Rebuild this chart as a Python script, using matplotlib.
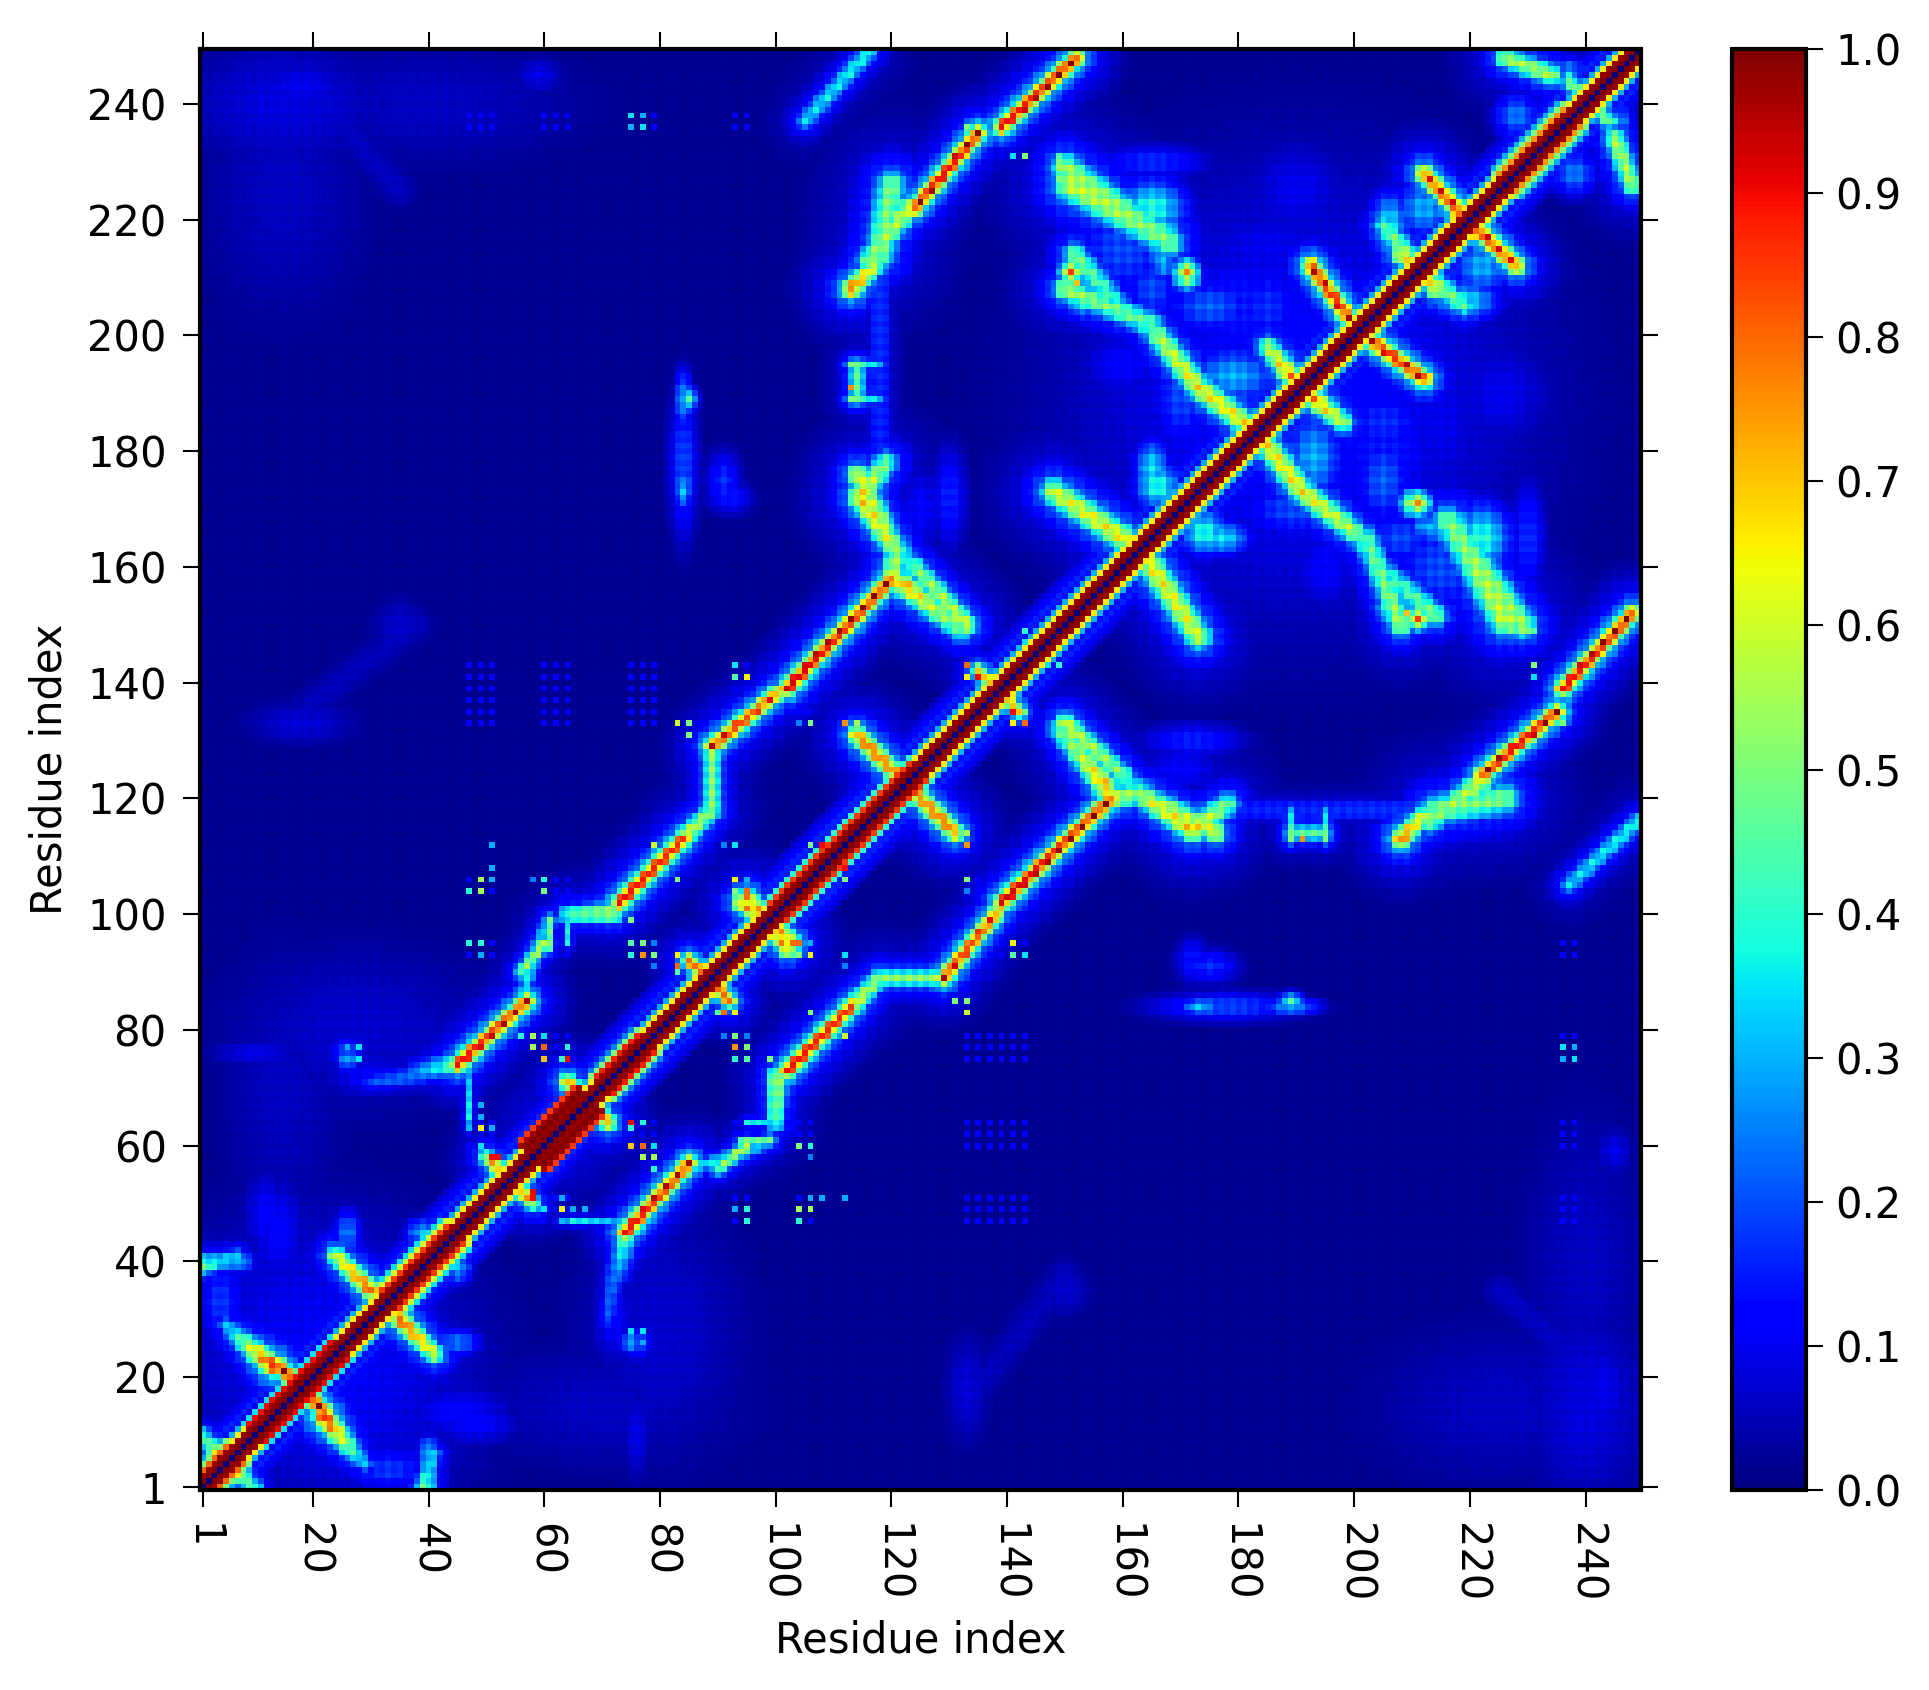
import numpy as np
import matplotlib
matplotlib.use("Agg")
import matplotlib.pyplot as plt

N_RESIDUES = 249
TICKS = [1, 20, 40, 60, 80, 100, 120, 140, 160, 180, 200, 220, 240]
CBAR_TICKS = [0.0, 0.1, 0.2, 0.3, 0.4, 0.5, 0.6, 0.7, 0.8, 0.9, 1.0]
AXIS_LABEL = "Residue index"

# contact ridges: x1, y1, x2, y2, value1, value2, spread
SHEET_RIDGES = [
    (74, 45, 85, 57, .92, .88, 1.9), (91, 57, 99, 61, .3, .35, 2), (100, 64, 100, 72, .45, .55, 2.2),
    (102, 73, 113, 84, .92, .88, 1.9), (114, 85, 118, 89, .6, .5, 2.4), (118, 89, 129, 89, .5, .5, 2.2),
    (129, 89, 138, 100, .88, .82, 1.9), (139, 102, 158, 120, .95, .9, 1.9), (158, 120, 163, 121, .6, .5, 3),
    (164, 120, 172, 114.5, .6, .68, 2.8), (172, 114.5, 178, 119, .68, .48, 2.8), (180, 118, 225, 118, .17, .2, 2.4),
    (208, 113, 212, 117, .78, .6, 2.4), (214, 118, 226, 120, .5, .5, 3.6), (213, 116, 222, 123, .5, .6, 2.8),
    (222, 124, 235, 135, .92, .92, 1.9), (236, 139, 248, 152, .92, .92, 1.9), (237, 105, 249, 116, .33, .38, 2.2),
    (189, 113, 189, 118, .45, .3, 1.4), (195, 113, 195, 118, .45, .3, 1.4), (189, 114, 195, 114, .5, .5, 1.6),
    (149, 132, 157, 122, .45, .72, 2.8), (74, 45, 73, 38, .5, .25, 2.4), (30, 71, 44, 73, .2, .3, 2),
    (47, 65, 47, 71, .35, .3, .9), (66, 100, 73, 101, .5, .5, 2.2), (61, 94, 61, 99, .45, .45, .9),
    (64, 95, 64, 98, .4, .4, .9), (56, 90, 60, 95, .5, .6, 1.6), (55, 83, 58, 91, .35, .35, 1.6),
    (63, 47, 73, 47, .28, .28, 1.0),
]
HELIX_ARMS = [
    (16, 20, 22, 14, .92, .92, 1.9), (22, 13, 27, 7, .88, .42, 2.6), (27, 7, 29, 5, .42, .3, 2),
    (35, 30, 41, 24, .82, .6, 2.3), (7, 3, 10, 1, .6, .4, 2), (55, 53, 58, 50, .88, .6, 1.8),
    (65, 70, 71, 64, .72, .72, 2.1), (85, 92, 92, 85, .82, .82, 1.7), (94, 102, 103, 95, .72, .72, 2.2),
    (115, 130, 131, 114, .78, .72, 2.3), (135, 142, 142, 135, .72, .72, 1.7), (165, 160, 173, 148, .65, .6, 3.1),
    (184.5, 181.5, 191, 173, .65, .65, 2.8), (191, 173, 200, 166, .65, .55, 2.8), (193, 189, 198, 185, .75, .55, 2.5),
    (203, 199, 212, 192.5, .88, .88, 2.1), (221.5, 218, 228, 212, .88, .82, 2.1), (151, 226, 167, 217, .6, .5, 3.9),
    (151.6, 214, 159, 205.4, .5, .4, 2.8), (159, 205, 166, 200, .35, .4, 2.8), (165, 219, 167, 212, .3, .3, 2.8),
    (205, 219, 214, 208, .45, .65, 2.5), (216, 168, 229, 150, .5, .55, 3.4), (202, 165, 208, 150, .45, .55, 2.8),
    (114, 176, 119, 167, .62, .55, 2.5), (119, 167, 124, 160, .3, .35, 2.5), (124, 160, 133, 150, .5, .6, 2.5),
    (226, 248, 234, 245, .55, .55, 2.5), (237, 244, 244, 237, .5, .5, 2), (1, 40, 8, 40, .4, .3, 2),
    (39, 1, 41, 7, .45, .3, 2), (22, 240, 35, 225, .06, .06, 4), (135, 18, 150, 38, .055, .055, 4),
]
# diffuse patches: x, y, spread x, spread y, value
PATCHES = [
    (190, 190, 40, 40, .13), (20, 25, 26, 26, .11), (28, 80, 26, 16, .07), (15, 240, 20, 12, .085),
    (70, 15, 28, 12, .06), (240, 40, 12, 30, .06), (225, 15, 25, 16, .06),
    (165, 230, 10, 3, .17), (180, 205, 12, 10, .15), (160, 215, 9, 9, .2), (166, 174, 4, 4, .4),
    (177, 165, 5, 3, .35), (208, 165, 6, 5, .2), (185, 215, 15, 8, .1), (170, 190, 5, 10, .2),
    (151, 211, 2, 2, .75), (171, 211, 2.2, 2.2, .7), (210, 171, 2.5, 2.5, .55), (118, 185, 3, 9, .12),
    (192, 114, 4, 2.5, .3), (125, 170, 4, 8, .12), (240, 12, 8, 6, .09), (243, 18, 5, 9, .1),
    (245, 59, 3, 4, .1), (35, 150, 5, 5, .07), (18, 133, 10, 4, .08), (4, 33, 4, 8, .18),
    (14, 45, 5, 10, .12), (26, 45, 2.5, 4, .25), (39, 45, 3, 2.5, .3), (26, 76, 3, 3, .2),
    (10, 76, 8, 2, .1), (72, 30, 4, 8, .12), (75, 26, 2, 2, .3), (32, 5, 13, 5, .12),
    (48, 12, 8, 4, .12), (172, 130, 9, 3, .16), (246, 237, 2.5, 3, .25), (175, 91, 5, 3, .17),
    (178, 84, 13, 2.5, .2), (173, 84, 3, 1.2, .35), (189, 85, 2, 1.5, .42), (84, 189, 1.5, 5, .3),
    (84, 174, 1.8, 4, .27), (92, 172, 4, 3, .15), (122, 122, 9, 9, .22), (100, 100, 8, 8, .12),
    (62, 62, 12, 12, .1), (140, 140, 5, 5, .1), (70, 62, 5, 5, .12),
    (193, 179, 5, 8, .3), (212, 222, 5, 5, .3), (219, 206, 6, 3.5, .35), (222, 165, 5, 6, .4),
    (206, 153, 3, 3, .4), (175, 205, 8, 5, .22), (205, 185, 8, 6, .17), (225, 190, 10, 10, .1),
    (160, 195, 8, 6, .12), (238, 228, 4, 4, .25),
]
# single bright cells: x, y, value
BRIGHT_X = [79, 93, 91, 49, 51, 58, 60, 47, 49, 60, 93, 95, 83, 112, 106, 108, 112, 47, 49, 75, 77, 75, 77, 79, 83, 83,
            104, 106, 104, 106, 56, 58, 60, 58, 60, 91, 93, 95, 93, 95, 93, 95, 99, 60, 63, 64, 28, 28, 26, 49, 51, 75,
            77, 75, 77, 79, 77, 79, 49, 49, 51, 58, 58, 60, 63, 65, 67, 93, 95, 104, 106, 106, 108, 112, 90, 93, 106, 112,
            133, 135, 133, 135, 141, 143, 141, 143, 149, 149, 141, 143, 147, 149, 227, 230, 231, 231, 236, 75, 77, 75, 77,
            93, 93, 95, 104, 106, 112, 114, 83, 85, 85, 191, 211, 209]
BRIGHT_Y = [112, 112, 112, 106, 106, 106, 106, 104, 104, 104, 106, 106, 106, 106, 112, 112, 108, 95, 95, 95, 95, 93, 93, 93, 93, 91,
            95, 95, 93, 93, 79, 79, 79, 77, 77, 79, 79, 79, 77, 77, 75, 75, 75, 75, 75, 75, 77, 75, 77, 63, 63, 64,
            64, 60, 60, 60, 58, 58, 60, 58, 58, 52, 49, 49, 49, 49, 49, 49, 49, 49, 49, 51, 51, 51, 83, 83, 83, 79,
            143, 143, 141, 141, 135, 135, 133, 133, 231, 227, 231, 231, 143, 143, 149, 149, 143, 141, 133, 238, 238, 236, 236,
            143, 141, 141, 133, 133, 133, 133, 133, 133, 131, 113, 151, 152]
BRIGHT_V = [.6, .35, .25, .55, .3, .25, .4, .4, .4, .5, .6, .3, .4, .5, .5, .9, .9, .4, .4, .4, .5, .4, .7, .5, .6, .8,
            .8, .3, .5, .65, .4, .5, .35, .5, .8, .25, .45, .25, .75, .5, .4, .45, .5, .6, .4, .9, .35, .35, .3, .65, .3, .9,
            .4, .7, .8, .3, .55, .55, .35, .4, .9, .9, .35, .35, .6, .3, .3, .3, .3, .55, .55, .3, .3, .3, .45, .65, .5, .6,
            .8, .35, .65, .9, .65, .35, .6, .8, .45, .45, .35, .5, .35, .4, .5, .5, .5, .35, .5, .35, .3, .3, .35,
            .35, .45, .65, .25, .5, .75, .55, .6, .5, .5, .75, .85, .7]
# residues whose pairs show the faint lattice of isolated cells
LATTICE_RESIDUES = [47, 49, 51, 60, 62, 64, 75, 77, 79, 93, 95, 104, 106, 133, 135, 137, 139, 141, 143, 236, 238]
LATTICE_LEVEL = 0.11
# gain of odd and even residues, the hatching seen in the map
ODD_GAIN, EVEN_GAIN = 1.05, 0.93
# diagonal fringe: first, last, value at |i-j|=3, 4, 5
FRINGE_DEFAULT = (.66, .3, .14)
FRINGES = [(1, 7, .8, .5, .3), (10, 25, .9, .35, .1), (33, 45, .85, .6, .35), (58, 68, 1., .97, .85),
           (70, 78, .88, .5, .25), (100, 125, .85, .4, .15), (226, 238, .75, .5, .3)]
DIAG_ONE, DIAG_TWO = 1.0, 0.98
BACKGROUND = 0.018

yy, xx = np.mgrid[1:N_RESIDUES + 1, 1:N_RESIDUES + 1].astype(float)
M = np.full(xx.shape, BACKGROUND)

for (x, y, sx, sy, v) in PATCHES:
    M = np.maximum(M, v * np.exp(-((xx - x) / sx) ** 2 - ((yy - y) / sy) ** 2))

for (x1, y1, x2, y2, v1, v2, w) in HELIX_ARMS + SHEET_RIDGES:
    dx, dy = x2 - x1, y2 - y1
    t = np.clip(((xx - x1) * dx + (yy - y1) * dy) / (dx * dx + dy * dy), 0, 1)
    d2 = (xx - x1 - t * dx) ** 2 + (yy - y1 - t * dy) ** 2
    peak = v1 + (v2 - v1) * t
    ridge = peak * np.exp(-d2 / (0.85 * w) ** 2)
    halo = 0.42 * peak * np.exp(-d2 / (w * 1.8) ** 2)
    tail = 0.16 * peak * np.exp(-d2 / (w * 3.6) ** 2)
    M = np.maximum(M, np.maximum(np.maximum(ridge, halo), tail))

gain = np.where(np.arange(1, N_RESIDUES + 1) % 2 == 1, ODD_GAIN, EVEN_GAIN)
M = np.clip(M * np.outer(gain, gain), 0, 1)

for a in LATTICE_RESIDUES:
    for b in LATTICE_RESIDUES:
        M[b - 1, a - 1] = max(M[b - 1, a - 1], LATTICE_LEVEL)
for x, y, v in zip(BRIGHT_X, BRIGHT_Y, BRIGHT_V):
    M[y - 1, x - 1] = max(M[y - 1, x - 1], v)

M = np.maximum(M, M.T)

for i in range(N_RESIDUES):
    for d, val_idx in ((1, None), (2, None), (3, 0), (4, 1), (5, 2)):
        if i + d >= N_RESIDUES:
            continue
        centre = i + 1 + d / 2
        fringe = FRINGE_DEFAULT
        for (a, b, p, q, r) in FRINGES:
            if a <= centre <= b:
                fringe = (p, q, r)
        val = DIAG_ONE if d == 1 else DIAG_TWO if d == 2 else fringe[val_idx]
        M[i, i + d] = M[i + d, i] = max(M[i, i + d], val)
    for d in range(6, 10):
        if i + d < N_RESIDUES:
            M[i, i + d] = M[i + d, i] = max(M[i, i + d], 0.13 * (10 - d) / 4 + .03)
    M[i, i] = 0.0

W, H = 1929, 1690
fig = plt.figure(figsize=(W / 300, H / 300), dpi=300)
plt.rcParams["font.family"] = "DejaVu Sans"
ax = fig.add_axes([200 / W, 1 - 1490 / H, 1440.5 / W, 1441 / H])
im = ax.imshow(M, origin="lower", cmap="jet", vmin=0, vmax=1, interpolation="nearest",
               extent=(0.5, N_RESIDUES + 0.5, 0.5, N_RESIDUES + 0.5), aspect="auto")
ax.set_xticks(TICKS)
ax.set_yticks(TICKS)
ax.set_xticklabels([str(t) for t in TICKS], rotation=270, fontsize=10)
ax.set_yticklabels([str(t) for t in TICKS], fontsize=10)
ax.tick_params(direction="out", length=4, width=0.5, top=True, right=True, pad=4)
ax.set_xlabel(AXIS_LABEL, fontsize=10, labelpad=4)
ax.set_ylabel(AXIS_LABEL, fontsize=10, labelpad=4)
for s in ax.spines.values():
    s.set_linewidth(1)

cax = fig.add_axes([1732 / W, 1 - 1490 / H, 74 / W, 1441 / H])
cb = fig.colorbar(im, cax=cax, ticks=CBAR_TICKS)
cb.ax.set_yticklabels([f"{t:.1f}" for t in CBAR_TICKS], fontsize=10)
cb.ax.tick_params(direction="out", length=4, width=0.5, pad=3)
cb.outline.set_linewidth(1)

fig.savefig("out.png", dpi=300)
